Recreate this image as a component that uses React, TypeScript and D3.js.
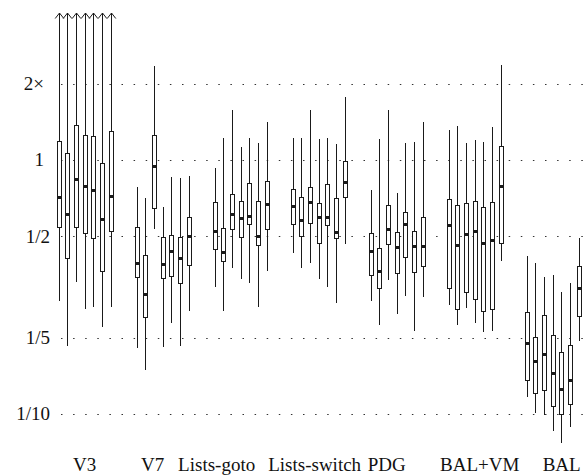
import React, { useEffect, useRef } from 'react';
import * as d3 from 'd3';

const groups = ['V3', 'V7', 'Lists-goto', 'Lists-switch', 'PDG', 'BAL+VM', 'BAL'];

// each box: [low whisker, lower quartile, median, upper quartile, high whisker]
// Infinity = whisker runs off the top of the plot
const v3 = [
  [0.279, 0.543, 0.713, 1.191, Infinity],
  [0.185, 0.410, 0.611, 1.063, Infinity],
  [0.330, 0.546, 0.844, 1.370, Infinity],
  [0.259, 0.517, 0.790, 1.254, Infinity],
  [0.263, 0.493, 0.764, 1.243, Infinity],
  [0.221, 0.366, 0.584, 0.976, Infinity],
  [0.263, 0.524, 0.720, 1.297, Infinity],
];
const v7 = [
  [0.182, 0.346, 0.394, 0.543, 0.785],
  [0.149, 0.240, 0.296, 0.421, 0.709],
  [0.535, 0.645, 0.950, 1.251, 2.344],
  [0.183, 0.342, 0.388, 0.496, 0.651],
  [0.228, 0.350, 0.440, 0.507, 0.860],
  [0.186, 0.329, 0.410, 0.499, 0.852],
  [0.255, 0.386, 0.502, 0.595, 0.867],
];
const listsGoto = [
  [0.317, 0.445, 0.526, 0.683, 0.928],
  [0.255, 0.399, 0.434, 0.539, 1.218],
  [0.375, 0.533, 0.613, 0.737, 1.573],
  [0.340, 0.499, 0.590, 0.691, 1.122],
  [0.329, 0.561, 0.602, 0.810, 1.218],
  [0.263, 0.462, 0.504, 0.691, 1.163],
  [0.366, 0.537, 0.673, 0.824, 1.407],
];
const listsSwitch = [
  [0.432, 0.558, 0.659, 0.771, 1.218],
  [0.375, 0.502, 0.580, 0.713, 1.218],
  [0.392, 0.563, 0.683, 0.785, 1.573],
  [0.340, 0.472, 0.595, 0.679, 1.210],
  [0.315, 0.555, 0.597, 0.807, 1.224],
  [0.273, 0.492, 0.519, 0.707, 1.156],
  [0.468, 0.715, 0.819, 0.994, 1.765],
];
const pdg = [
  [0.278, 0.354, 0.440, 0.515, 0.762],
  [0.225, 0.312, 0.366, 0.450, 1.213],
  [0.337, 0.467, 0.533, 0.667, 1.573],
  [0.248, 0.360, 0.453, 0.522, 0.744],
  [0.291, 0.416, 0.560, 0.623, 1.163],
  [0.213, 0.362, 0.460, 0.525, 1.174],
  [0.290, 0.382, 0.459, 0.598, 1.411],
];
const balVm = [
  [0.269, 0.314, 0.555, 0.704, 1.312],
  [0.225, 0.260, 0.462, 0.663, 1.357],
  [0.261, 0.302, 0.513, 0.679, 1.163],
  [0.229, 0.284, 0.526, 0.688, 1.199],
  [0.210, 0.255, 0.470, 0.653, 1.177],
  [0.212, 0.259, 0.486, 0.685, 1.345],
  [0.401, 0.471, 0.792, 1.138, 2.372],
];
const bal = [
  [0.117, 0.136, 0.191, 0.252, 0.420],
  [0.101, 0.121, 0.161, 0.201, 0.394],
  [0.099, 0.124, 0.172, 0.245, 0.347],
  [0.086, 0.108, 0.145, 0.205, 0.352],
  [0.0766, 0.0997, 0.126, 0.175, 0.302],
  [0.089, 0.109, 0.136, 0.187, 0.329],
  [0.194, 0.244, 0.314, 0.384, 0.493],
];
const boxes = [v3, v7, listsGoto, listsSwitch, pdg, balVm, bal];

const tickValues = [2, 1, 1 / 2, 1 / 5, 1 / 10];
const tickLabels = ['2×', '1', '1/2', '1/5', '1/10'];

const width = 584;
const height = 475;
const font = "'Liberation Serif', 'Times New Roman', serif";
const ink = '#1a1a1a';
// label centres don't sit exactly under the groups in the original
const labelShift = [0, -10, -24, -4, -10, 5, 9];

export default function App() {
  const ref = useRef<SVGSVGElement>(null);

  useEffect(() => {
    const svg = d3.select(ref.current);
    svg.selectAll('*').remove();

    const y = d3.scaleLog().domain([1 / 10, 2]).range([414, 83.5]);
    const topValue = y.invert(13);
    const x = d3.scaleBand().domain(groups).range([54.3, 583]).paddingInner(2 / 9).paddingOuter(0);
    const inner = d3.scaleBand<number>().domain(d3.range(7)).range([0, x.bandwidth()]);
    const py = (v: number) => Math.round(y(Math.min(v, topValue)));

    // dotted grid
    svg.append('g').selectAll('line').data(tickValues).join('line')
      .attr('x1', 61).attr('x2', width)
      .attr('y1', d => py(d) + 0.5).attr('y2', d => py(d) + 0.5)
      .attr('stroke', '#333').attr('stroke-width', 1)
      .attr('stroke-dasharray', '1.5 10.6');

    // tick labels
    svg.append('g').selectAll('text').data(tickValues).join('text')
      .attr('x', (d, i) => (tickLabels[i].includes('/') ? 50 : 44))
      .attr('y', d => y(d))
      .attr('dy', '0.34em')
      .attr('text-anchor', 'end')
      .style('font-family', font).style('font-size', '19px').attr('fill', '#111')
      .text((d, i) => tickLabels[i]);

    // boxes
    groups.forEach((g, gi) => {
      const grp = svg.append('g');
      boxes[gi].forEach((b, i) => {
        const [lo, q1, med, q3, hi] = b;
        const cx = Math.round((x(g) as number) + (inner(i) as number) + inner.bandwidth() / 2) + 0.5;
        grp.append('line')
          .attr('x1', cx).attr('x2', cx)
          .attr('y1', py(lo)).attr('y2', py(hi))
          .attr('stroke', ink).attr('stroke-width', 1);
        if (hi > topValue) {
          const t = py(hi);
          grp.append('path')
            .attr('d', `M${cx - 4.3},${t + 5.5}L${cx},${t}L${cx + 4.3},${t + 5.5}`)
            .attr('fill', 'none').attr('stroke', ink).attr('stroke-width', 1);
        }
        grp.append('rect')
          .attr('x', cx - 2).attr('width', 4)
          .attr('y', py(q3) + 0.5).attr('height', py(q1) - py(q3))
          .attr('fill', '#fff').attr('stroke', ink).attr('stroke-width', 1);
        grp.append('rect')
          .attr('x', cx - 1.5).attr('width', 3)
          .attr('y', py(med) - 1).attr('height', 3)
          .attr('fill', ink);
      });
    });

    // group labels
    svg.append('g').selectAll('text').data(groups).join('text')
      .attr('x', (d, i) => (x(d) as number) + x.bandwidth() / 2 + labelShift[i])
      .attr('y', 471)
      .attr('text-anchor', 'middle')
      .style('font-family', font).style('font-size', '19px').attr('fill', '#111')
      .text(d => d);
  }, []);

  return (
    <svg
      ref={ref}
      width={width}
      height={height}
      style={{ position: 'absolute', left: 0, top: 0, background: '#fff' }}
    />
  );
}
